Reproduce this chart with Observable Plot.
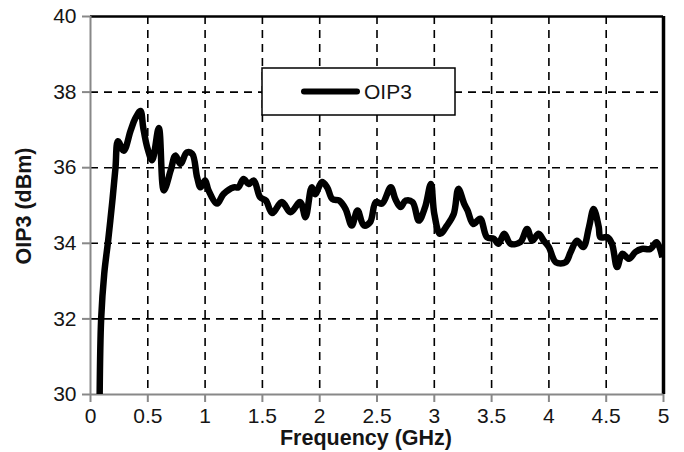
<!DOCTYPE html>
<html><head><meta charset="utf-8">
<script src="https://cdn.jsdelivr.net/npm/d3@7"></script>
<script src="https://cdn.jsdelivr.net/npm/@observablehq/plot@0.6"></script>
<style>
body{margin:0;background:#fff;font-family:"Liberation Sans",Arial,sans-serif;}
#wrap{position:relative;width:684px;height:452px;}
</style></head>
<body><div id="wrap"></div>
<script>
const freq = [0.08,0.093,0.12,0.155,0.19,0.218,0.24,0.29,0.35,0.39,0.436,0.46,0.495,0.538,0.596,0.64,0.70,0.74,0.785,0.84,0.887,0.93,0.96,1.0,1.03,1.105,1.16,1.25,1.29,1.335,1.38,1.425,1.48,1.53,1.585,1.67,1.745,1.83,1.876,1.93,1.96,2.02,2.065,2.11,2.17,2.225,2.28,2.33,2.385,2.44,2.49,2.545,2.62,2.66,2.705,2.75,2.81,2.865,2.92,2.97,3.0,3.05,3.11,3.17,3.21,3.26,3.29,3.34,3.40,3.46,3.52,3.56,3.61,3.665,3.75,3.81,3.855,3.91,3.955,4.0,4.06,4.145,4.19,4.245,4.30,4.35,4.39,4.435,4.45,4.51,4.55,4.595,4.64,4.70,4.755,4.81,4.885,4.94,4.99];
const oip3 = [30.0,32.0,33.2,34.1,35.1,36.0,36.7,36.45,36.98,37.3,37.5,37.06,36.54,36.2,37.05,35.4,35.93,36.32,36.1,36.4,36.37,35.75,35.48,35.66,35.4,35.05,35.3,35.48,35.48,35.7,35.57,35.66,35.22,35.13,34.8,35.09,34.82,35.09,34.69,35.48,35.3,35.62,35.48,35.17,35.13,34.91,34.47,34.87,34.47,34.56,35.09,35.05,35.48,35.17,34.96,35.13,35.09,34.6,34.96,35.57,34.78,34.25,34.47,34.78,35.44,35.05,34.87,34.51,34.65,34.16,34.12,33.99,34.25,33.99,34.03,34.38,34.07,34.25,34.07,33.9,33.5,33.5,33.77,34.07,33.9,34.43,34.91,34.43,34.16,34.16,33.99,33.37,33.72,33.59,33.77,33.85,33.85,34.03,33.63];
const xTicks = [0,0.5,1,1.5,2,2.5,3,3.5,4,4.5,5];
const yTicks = [30,32,34,36,38,40];
const xGrid = [0.5,1,1.5,2,2.5,3,3.5,4,4.5];
const yGrid = [32,34,36,38];
const seriesName = "OIP3";
const xTitle = "Frequency (GHz)";
const yTitle = "OIP3 (dBm)";

const data = freq.map((f,i)=>({f, v: oip3[i]}));

const chart = Plot.plot({
  width: 684, height: 452,
  marginLeft: 90, marginRight: 21, marginTop: 16, marginBottom: 58,
  style: {fontFamily: '"Liberation Sans", Arial, sans-serif', fontSize: "21px", color: "#151515", background: "#fff"},
  x: {domain: [0,5]},
  y: {domain: [30,40]},
  marks: [
    Plot.ruleX(xGrid, {stroke: "#000", strokeWidth: 1.6, strokeDasharray: "8,6"}),
    Plot.ruleY(yGrid, {stroke: "#000", strokeWidth: 1.6, strokeDasharray: "8,6"}),
    Plot.ruleY([40], {stroke: "#000", strokeWidth: 2.5}),
    Plot.ruleX([5], {stroke: "#000", strokeWidth: 3.5}),
    Plot.ruleX([0], {stroke: "#888", strokeWidth: 2}),
    Plot.ruleY([30], {stroke: "#888", strokeWidth: 2}),
    Plot.axisX({ticks: xTicks, tickFormat: d => String(d), tickSize: 8, tickPadding: 6, stroke: "#888", strokeWidth: 2, label: null, fontSize: 21}),
    Plot.axisY({ticks: yTicks, tickFormat: d => String(d), tickSize: 8, tickPadding: 6, stroke: "#888", strokeWidth: 2, label: null, fontSize: 21}),
    Plot.line(data, {x: "f", y: "v", stroke: "#000", strokeWidth: 6.5, curve: "catmull-rom", clip: true, strokeLinejoin: "round", strokeLinecap: "butt"})
  ]
});
document.getElementById("wrap").appendChild(chart);

const svg = d3.select(chart);
svg.append("text").attr("x", 366).attr("y", 445).attr("text-anchor", "middle")
  .attr("font-weight", "bold").attr("font-size", 21.5).attr("fill", "#151515").text(xTitle);
svg.append("text").attr("transform", "translate(31,206) rotate(-90)").attr("text-anchor", "middle")
  .attr("font-weight", "bold").attr("font-size", 21.5).attr("fill", "#151515").text(yTitle);
const lg = svg.append("g");
lg.append("rect").attr("x", 262).attr("y", 68).attr("width", 193).attr("height", 47)
  .attr("fill", "#fff").attr("stroke", "#000").attr("stroke-width", 1.5);
lg.append("line").attr("x1", 304).attr("x2", 357).attr("y1", 91.5).attr("y2", 91.5)
  .attr("stroke", "#000").attr("stroke-width", 6).attr("stroke-linecap", "round");
lg.append("text").attr("x", 364).attr("y", 99).attr("text-anchor", "start")
  .attr("font-size", 21).attr("fill", "#151515").text(seriesName);
</script>
</body></html>
